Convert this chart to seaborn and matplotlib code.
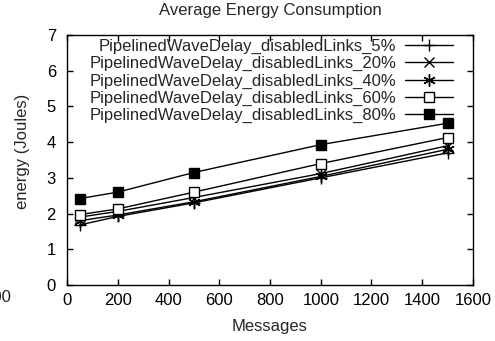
import matplotlib
matplotlib.use("Agg")
import matplotlib.pyplot as plt
import seaborn as sns
import pandas as pd

messages = [50, 200, 500, 1000, 1500]
series_names = [
    "PipelinedWaveDelay_disabledLinks_5%",
    "PipelinedWaveDelay_disabledLinks_20%",
    "PipelinedWaveDelay_disabledLinks_40%",
    "PipelinedWaveDelay_disabledLinks_60%",
    "PipelinedWaveDelay_disabledLinks_80%",
]
links_5 = [1.68, 1.92, 2.30, 3.00, 3.70]
links_20 = [1.90, 2.06, 2.45, 3.12, 3.90]
links_40 = [1.80, 1.96, 2.33, 3.04, 3.80]
links_60 = [1.97, 2.13, 2.60, 3.40, 4.13]
links_80 = [2.42, 2.60, 3.15, 3.93, 4.53]
x_ticks = [0, 200, 400, 600, 800, 1000, 1200, 1400, 1600]
y_ticks = [0, 1, 2, 3, 4, 5, 6, 7]

values = [links_5, links_20, links_40, links_60, links_80]
rows = []
for name, vals in zip(series_names, values):
    for m, v in zip(messages, vals):
        rows.append({"Messages": m, "energy": v, "series": name})
df = pd.DataFrame(rows)

sns.set_style("ticks")
plt.rcParams['font.family'] = ['Liberation Sans', 'DejaVu Sans']

FS = 12
fig = plt.figure(figsize=(4.95, 3.41), dpi=100)
ax = fig.add_axes([67 / 495, 1 - 285 / 341, (473 - 67) / 495, (285 - 35) / 341])

styles = [
    dict(marker="+", markersize=9, markerfacecolor="black", markeredgewidth=1),
    dict(marker="x", markersize=7, markerfacecolor="black", markeredgewidth=1),
    dict(marker=(6, 2, 0), markersize=9, markerfacecolor="black", markeredgewidth=1),
    dict(marker="s", markersize=7, markerfacecolor="white", markeredgewidth=1),
    dict(marker="s", markersize=7, markerfacecolor="black", markeredgewidth=1),
]
for name, st in zip(series_names, styles):
    sub = df[df["series"] == name]
    sns.lineplot(data=sub, x="Messages", y="energy", ax=ax, color="black",
                 linewidth=1, markeredgecolor="black", label=name, **st)

ax.set_xlim(0, 1600)
ax.set_ylim(0, 7)
ax.set_xticks(x_ticks)
ax.set_yticks(y_ticks)
ax.tick_params(direction="in", top=True, right=True, length=4, width=1,
               labelsize=FS, pad=6, colors="black")
ax.tick_params(axis="y", pad=8)
for s in ax.spines.values():
    s.set_linewidth(1)
    s.set_color("black")
ax.set_xlabel("Messages", fontsize=FS, labelpad=8)
ax.set_ylabel("energy (Joules)", fontsize=FS)
ax.yaxis.set_label_coords((30 - 67) / 406, (285 - 151) / 250)
fig.text(270 / 495, 1 - 10 / 341, "Average Energy Consumption", ha="center",
         va="center", fontsize=FS)
fig.text(11 / 495, 1 - 297 / 341, "200", ha="right", va="center", fontsize=FS)

leg = ax.legend(loc="upper right", bbox_to_anchor=((453 - 67) / 406 + 0.025, 1.025),
                frameon=False, markerfirst=False, fontsize=FS, handlelength=2.9,
                labelspacing=0.13, borderaxespad=0.3, handletextpad=0.5,
                borderpad=0.3)
for t in leg.get_texts():
    t.set_ha("right")
leg._legend_box.align = "right"

fig.savefig("out.png", dpi=100)
